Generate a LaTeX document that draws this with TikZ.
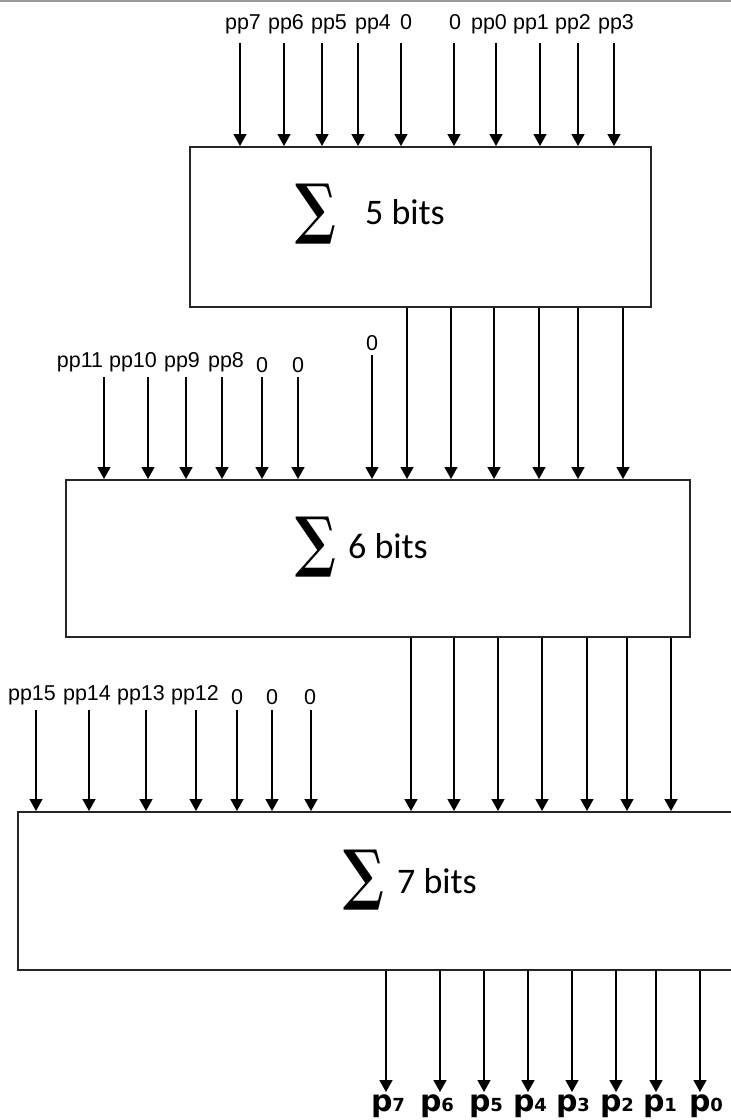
\documentclass[tikz,border=0pt]{standalone}
\usepackage{fontspec}
\setmainfont{Liberation Sans}
\newfontfamily\bitsfont{Carlito}
\newfontfamily\outfont{DejaVu Sans}
\newfontfamily\sigmafont{DejaVu Serif}
\usetikzlibrary{arrows.meta}
\newcommand{\bigsum}{\scalebox{0.82}[1]{\sigmafont\bfseries\fontsize{66}{66}\selectfont ∑}}
\begin{document}
\begin{tikzpicture}[x=1pt,y=-1pt,
  adder/.style={draw=black!85, line width=2pt, rectangle, inner sep=0pt},
  arr/.style={line width=1.5pt, -{Triangle[width=13pt,length=12pt]}},
  inlabel/.style={font=\fontsize{21.5}{21.5}\selectfont, anchor=base, inner sep=0pt},
  sumsign/.style={inner sep=0pt},
  bitslabel/.style={font=\bitsfont\fontsize{36}{36}\selectfont, anchor=base, inner sep=0pt},
  outlabel/.style={font=\outfont\bfseries, anchor=base, inner sep=0pt}]
\useasboundingbox (0,0) rectangle (731,1120);
\draw[black!40, line width=1.5pt] (0,0.75) -- (731,0.75);

% the three adders
\node[adder, minimum width=461pt, minimum height=160pt] (s5) at (420.5,227) {};
\node[adder, minimum width=624pt, minimum height=157pt] (s6) at (378,558.5) {};
\node[adder, minimum width=715pt, minimum height=158pt] (s7) at (375.5,891) {};

% adder captions
\node[sumsign] (g5) at (316,214.5) {\bigsum};
\node[bitslabel] (t5) at (405,224) {5 bits};
\node[sumsign] (g6) at (316,547) {\bigsum};
\node[bitslabel] (t6) at (388,558) {6 bits};
\node[sumsign] (g7) at (364,880) {\bigsum};
\node[bitslabel] (t7) at (437,893) {7 bits};

% inputs of the 5-bit adder
\foreach \x/\lx/\t [count=\i] in {240/243/pp7,284/286/pp6,322/329/pp5,358/373/pp4,401/406/0,
    454/455/0,496/489/pp0,540/531/pp1,578/573/pp2,614/616/pp3} {
  \node[inlabel] (la\i) at (\lx,29) {\t};
  \coordinate (ia\i) at (\x,43);
  \draw[arr] (ia\i) -- (ia\i |- s5.north);
}

% extra inputs of the 6-bit adder
\foreach \x/\lx/\t/\by [count=\i] in {104/80/pp11/367,148/133/pp10/367,186/182/pp9/367,222/226/pp8/367,
    262/262/0/372,298/298/0/372} {
  \node[inlabel] (lb\i) at (\lx,\by) {\t};
  \coordinate (ib\i) at (\x,377);
  \draw[arr] (ib\i) -- (ib\i |- s6.north);
}
\node[inlabel] (lb7) at (372,350) {0};
\coordinate (ib7) at (372,355);
\draw[arr] (ib7) -- (ib7 |- s6.north);

% sum bits from the 5-bit adder into the 6-bit adder
\foreach \x [count=\i] in {407,451,494,539,578,623} {
  \coordinate (ca\i) at (\x,0);
  \draw[arr] (s5.south -| ca\i) -- (s6.north -| ca\i);
}

% extra inputs of the 7-bit adder
\foreach \x/\lx/\t/\by [count=\i] in {36/32/pp15/700,89/87/pp14/700,146/141/pp13/700,196/195/pp12/700,
    237/237/0/704,272/272/0/704,311/310/0/704} {
  \node[inlabel] (lc\i) at (\lx,\by) {\t};
  \coordinate (ic\i) at (\x,710);
  \draw[arr] (ic\i) -- (ic\i |- s7.north);
}

% sum bits from the 6-bit adder into the 7-bit adder
\foreach \x [count=\i] in {411,454,498,542,587,627,671} {
  \coordinate (cb\i) at (\x,0);
  \draw[arr] (s6.south -| cb\i) -- (s7.north -| cb\i);
}

% product bits
\foreach \x/\lx/\d [count=\i] in {386/388/7,440/437/6,484/486/5,528/530/4,572/573/3,616/617/2,656/660/1,700/706/0} {
  \coordinate (o\i) at (\x,1092);
  \draw[arr] (s7.south -| o\i) -- (o\i);
  \node[outlabel] (p\i) at (\lx,1111) {{\fontsize{30}{30}\selectfont p}{\fontsize{18}{18}\selectfont\d}};
}
\end{tikzpicture}
\end{document}
